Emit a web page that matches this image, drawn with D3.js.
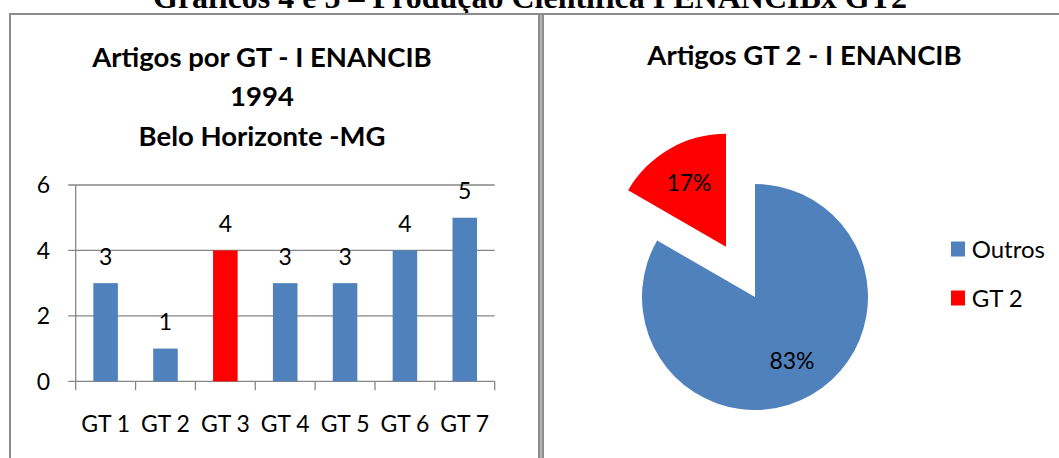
<!DOCTYPE html>
<html><head><meta charset="utf-8">
<script src="https://cdn.jsdelivr.net/npm/d3@7"></script>
<style>body{margin:0;background:#fff;}svg{display:block;}</style>
</head><body>
<script>
// ---- data ----
const barCategories = ["GT 1","GT 2","GT 3","GT 4","GT 5","GT 6","GT 7"];
const barValues = [3,1,4,3,3,4,5];
const highlightCategory = "GT 3";
const yTicks = [0,2,4,6];
const pieLabels = ["Outros","GT 2"];
const pieValues = [5,1];
const heading = "Gráficos 4 e 5 – Produção Científica I ENANCIBx GT2";
const barTitle = ["Artigos por GT - I ENANCIB","1994","Belo Horizonte -MG"];
const pieTitle = "Artigos GT 2 - I ENANCIB";

const W=1059,H=458;
const BLUE="#4F81BD", RED="#FF0000", GRID="#868686", FRAME="#8c8c8c";
const FONT="Lato, 'Open Sans', sans-serif";
const FS=23;
const svg=d3.select("body").append("svg").attr("width",W).attr("height",H);

// heading (cut off at the top, as in the source)
svg.append("text").attr("x",530).attr("y",7.5).attr("text-anchor","middle")
  .attr("font-family","'Liberation Serif','Times New Roman',serif").attr("font-weight","bold")
  .attr("font-size",32).attr("fill","#000").text(heading);

// frames
svg.append("rect").attr("x",9).attr("y",13).attr("width",W-9).attr("height",2).attr("fill",FRAME);
svg.append("rect").attr("x",9).attr("y",13).attr("width",2).attr("height",H-13).attr("fill",FRAME);
svg.append("rect").attr("x",538).attr("y",13).attr("width",6).attr("height",H-13).attr("fill",FRAME);
svg.append("rect").attr("x",540).attr("y",15).attr("width",2).attr("height",H-15).attr("fill","#b4b4b4");

// ---- bar chart ----
const x=d3.scaleBand().domain(barCategories).range([75.7,494.7]).paddingInner(0.59).paddingOuter(0.295);
const y=d3.scaleLinear().domain([0,6]).range([381.3,185]);
const g=svg.append("g");
const titleG=g.append("g").attr("font-family",FONT).attr("font-weight","bold").attr("font-size",27.5).attr("text-anchor","middle");
barTitle.forEach((t,i)=>titleG.append("text").attr("x",262).attr("y",66.7+i*39.7).text(t));

// gridlines + y ticks
const [x0,x1]=x.range();
yTicks.forEach(t=>{
  g.append("line").attr("x1",x0-7.5).attr("x2",x1).attr("y1",y(t)).attr("y2",y(t)).attr("stroke",GRID).attr("stroke-width",1.3);
  g.append("text").attr("x",50).attr("y",y(t)).attr("dy","0.36em").attr("text-anchor","end")
   .attr("font-family",FONT).attr("font-size",FS).text(t);
});
g.append("line").attr("x1",x0).attr("x2",x0).attr("y1",y(6)).attr("y2",y(0)).attr("stroke",GRID).attr("stroke-width",1.3);
// x category boundary ticks
const step=x.step();
d3.range(barCategories.length+1).forEach(i=>{
  const xx=x0+i*step;
  g.append("line").attr("x1",xx).attr("x2",xx).attr("y1",y(0)).attr("y2",y(0)+9).attr("stroke",GRID).attr("stroke-width",1.3);
});
// bars
g.selectAll("rect.bar").data(barCategories).join("rect").attr("class","bar")
  .attr("x",d=>x(d)).attr("width",x.bandwidth())
  .attr("y",(d,i)=>y(barValues[i])).attr("height",(d,i)=>y(0)-y(barValues[i]))
  .attr("fill",d=>d===highlightCategory?RED:BLUE);
// value labels
g.selectAll("text.val").data(barCategories).join("text").attr("class","val")
  .attr("x",d=>x(d)+x.bandwidth()/2).attr("y",(d,i)=>y(barValues[i])-18.5)
  .attr("text-anchor","middle").attr("font-family",FONT).attr("font-size",FS).text((d,i)=>barValues[i]);
// category labels
g.selectAll("text.cat").data(barCategories).join("text").attr("class","cat")
  .attr("x",d=>x(d)+x.bandwidth()/2).attr("y",424).attr("dy","0.36em")
  .attr("text-anchor","middle").attr("font-family",FONT).attr("font-size",FS).text(d=>d);

// ---- pie chart ----
const pg=svg.append("g");
pg.append("text").attr("x",804.5).attr("y",65).attr("text-anchor","middle")
  .attr("font-family",FONT).attr("font-weight","bold").attr("font-size",27.5).text(pieTitle);
const cx=755, cy=297, R=113, explode=58;
const pieColors=[BLUE,RED];
const arcs=d3.pie().sort(null)(pieValues);
const arc=d3.arc().innerRadius(0).outerRadius(R);
const labelArc=d3.arc().innerRadius(74).outerRadius(74);
const total=d3.sum(pieValues);
arcs.forEach((a,i)=>{
  const mid=(a.startAngle+a.endAngle)/2;
  const off=i===1?explode:0;
  const tx=cx+off*Math.sin(mid), ty=cy-off*Math.cos(mid);
  const sg=pg.append("g").attr("transform",`translate(${tx},${ty})`);
  sg.append("path").attr("d",arc(a)).attr("fill",pieColors[i]);
  const c=labelArc.centroid(a);
  sg.append("text").attr("x",c[0]).attr("y",c[1]).attr("dy","0.36em").attr("text-anchor","middle")
    .attr("font-family",FONT).attr("font-size",FS).attr("fill","#000")
    .text(Math.round(pieValues[i]/total*100)+"%");
});
// legend
pieLabels.forEach((l,i)=>{
  const ly=249+i*49;
  pg.append("rect").attr("x",951).attr("y",ly-7.5).attr("width",14).attr("height",15).attr("fill",pieColors[i]);
  pg.append("text").attr("x",971.7).attr("y",ly).attr("dy","0.36em").attr("font-family",FONT).attr("font-size",24).text(l);
});
</script>
</body></html>
